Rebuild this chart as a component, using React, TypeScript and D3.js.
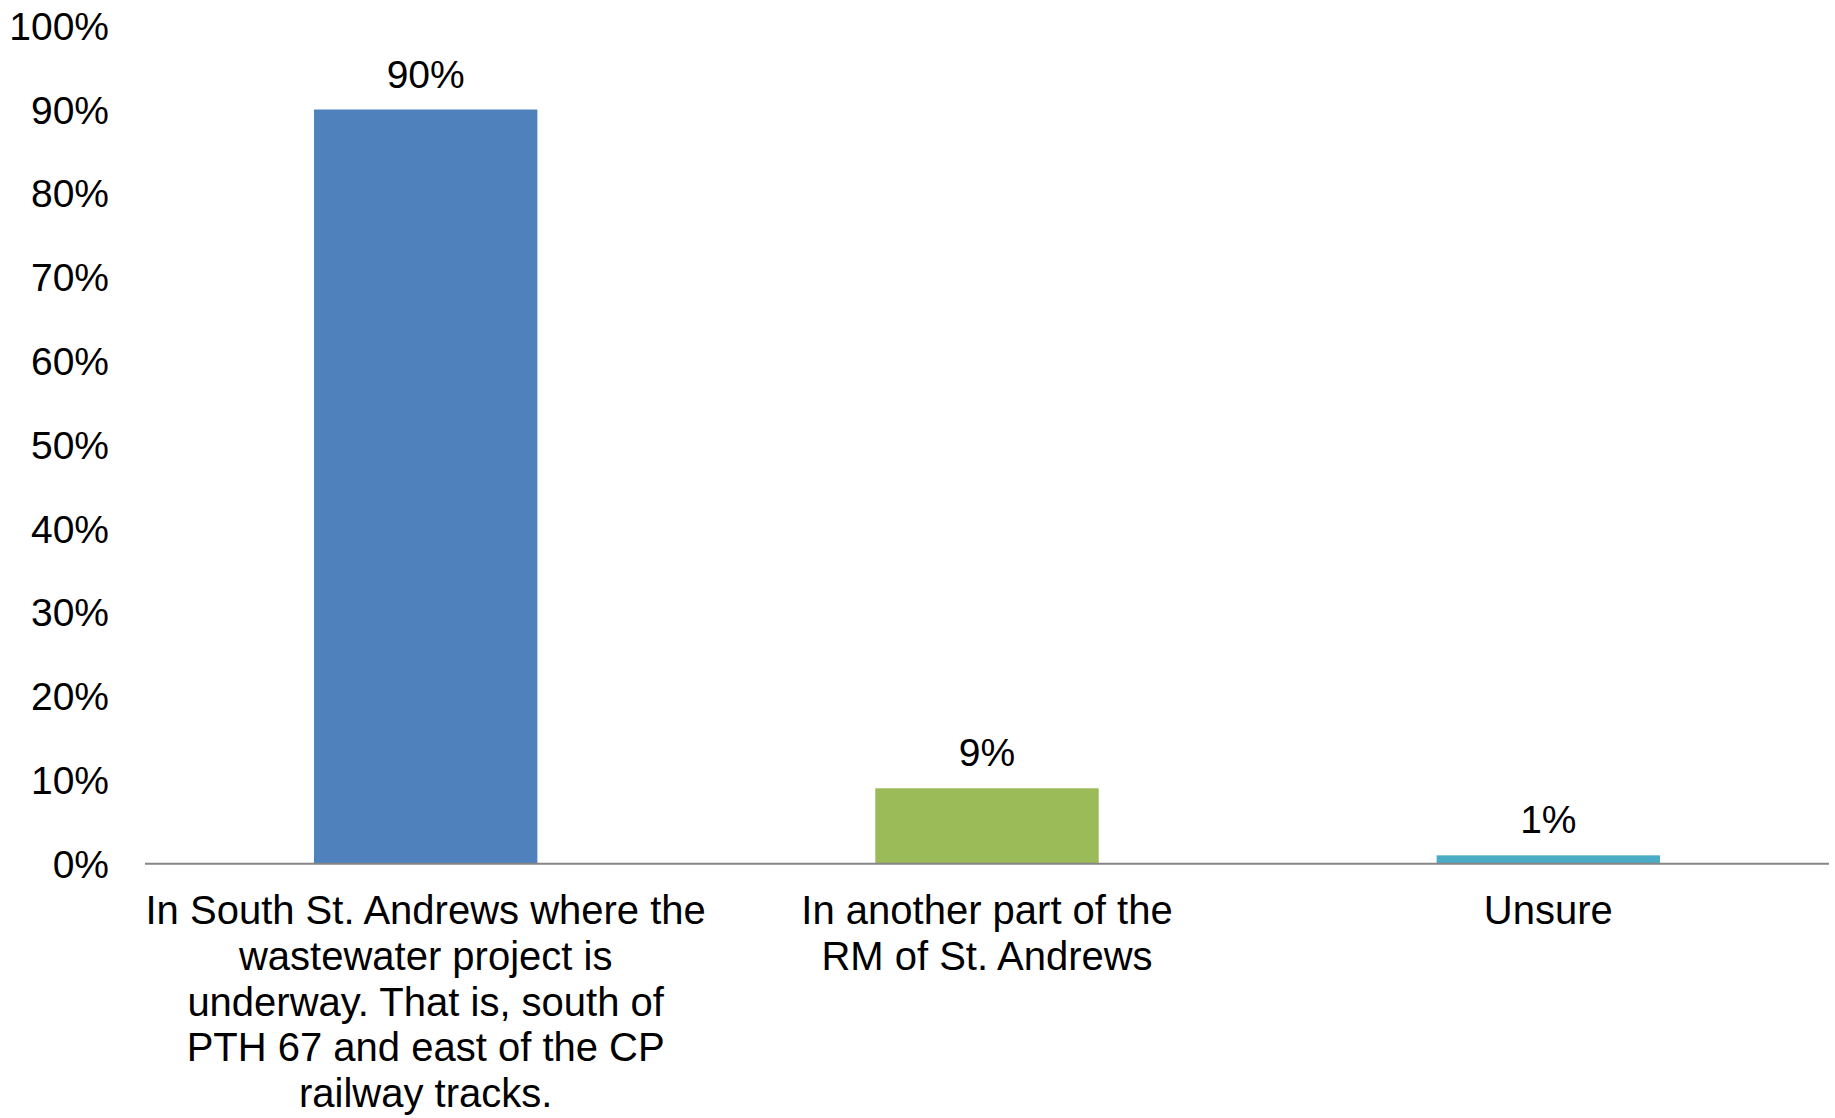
import React from "react";
import * as d3 from "d3";

const categories: string[][] = [
  ["In South St. Andrews where the", "wastewater project is", "underway. That is, south of", "PTH 67 and east of the CP", "railway tracks."],
  ["In another part of the", "RM of St. Andrews"],
  ["Unsure"],
];
const values: number[] = [90, 9, 1];
const valueLabels: string[] = ["90%", "9%", "1%"];
const colors: string[] = ["#4F81BD", "#9BBB59", "#4BACC6"];
const yTicks: number[] = [0, 10, 20, 30, 40, 50, 60, 70, 80, 90, 100];

const W = 1835;
const H = 1118;
const FONT = "'Liberation Sans', Arial, sans-serif";

export default function App() {
  const x = d3.scaleBand<number>().domain(d3.range(categories.length)).range([145, 1829]).padding(0);
  const y = d3.scaleLinear().domain([0, 100]).range([863.7, 25.7]);
  const barW = x.step() * 0.398;

  return (
    <div style={{ position: "absolute", left: 0, top: 0 }}>
      <svg width={W} height={H} style={{ display: "block", background: "#fff" }}>
        {yTicks.map((t) => (
          <text
            key={t}
            x={109}
            y={y(t)}
            dy="0.36em"
            textAnchor="end"
            fontFamily={FONT}
            fontSize={39}
            fill="#000"
          >
            {t + "%"}
          </text>
        ))}
        {values.map((v, i) => {
          const cx = (x(i) as number) + x.bandwidth() / 2;
          return (
            <g key={i}>
              <rect x={cx - barW / 2} y={y(v)} width={barW} height={y(0) - y(v)} fill={colors[i]} />
              <text x={cx} y={y(v) - 22} textAnchor="middle" fontFamily={FONT} fontSize={39} fill="#000">
                {valueLabels[i]}
              </text>
              {categories[i].map((line, j) => (
                <text
                  key={j}
                  x={cx}
                  y={924 + j * 45.8}
                  textAnchor="middle"
                  fontFamily={FONT}
                  fontSize={40}
                  fill="#000"
                >
                  {line}
                </text>
              ))}
            </g>
          );
        })}
        <line x1={145} x2={1829} y1={y(0)} y2={y(0)} stroke="#868686" strokeWidth={2} />
      </svg>
    </div>
  );
}
